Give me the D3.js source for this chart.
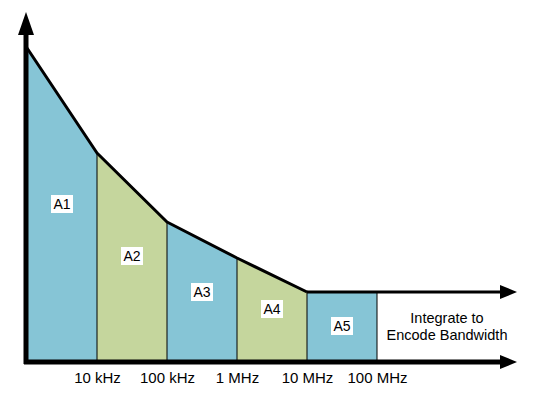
<!DOCTYPE html>
<html>
<head>
<meta charset="utf-8">
<script src="https://cdn.jsdelivr.net/npm/d3@7"></script>
<style>
	body { margin: 0; background: #fff; }
	text { font-family: "Liberation Sans", Arial, sans-serif; }
</style>
</head>
<body>
<div id="chart"></div>
<script>
var width = 552,
	height = 395;

// band edges (Hz) and curve level at each edge
var edges = [1e3, 1e4, 1e5, 1e6, 1e7, 1e8];
var levels = [312, 207, 138, 102, 68, 68];
var bandNames = ["A1", "A2", "A3", "A4", "A5"];
var bandColors = ["#86c5d6", "#c5d69d", "#86c5d6", "#c5d69d", "#86c5d6"];
var tickVals = [1e4, 1e5, 1e6, 1e7, 1e8];
var tickLabels = ["10 kHz", "100 kHz", "1 MHz", "10 MHz", "100 MHz"];
// label heights within each band
var labelLevels = [156, 104, 68, 51, 34];

var x = d3.scaleLog()
	.domain([1e3, 1e10])
	.range([27, 517]);

var y = d3.scaleLinear()
	.domain([0, 350])
	.range([360, 10]);

var svg = d3.select("#chart")
	.append("svg")
	.attr("width", width)
	.attr("height", height);

var defs = svg.append("defs");

function addArrow(id, len, wid) {
	defs.append("marker")
		.attr("id", id)
		.attr("viewBox", "0 0 10 10")
		.attr("refX", 0)
		.attr("refY", 5)
		.attr("markerUnits", "userSpaceOnUse")
		.attr("markerWidth", len)
		.attr("markerHeight", wid)
		.attr("orient", "auto")
		.attr("preserveAspectRatio", "none")
		.append("path")
		.attr("d", "M0,0L10,5L0,10Z")
		.attr("fill", "#000");
}
addArrow("arrow", 17, 14);
addArrow("arrowY", 23, 16);

// bands
var bands = bandNames.map(function (n, i) {
	return { name: n, x0: edges[i], x1: edges[i + 1], y0: levels[i], y1: levels[i + 1], color: bandColors[i], ly: labelLevels[i] };
});

var gBands = svg.append("g").attr("class", "bands");

gBands.selectAll("path")
	.data(bands)
	.enter()
	.append("path")
	.attr("d", function (d) {
		return "M" + x(d.x0) + "," + y(0) + "L" + x(d.x0) + "," + y(d.y0) +
			"L" + x(d.x1) + "," + y(d.y1) + "L" + x(d.x1) + "," + y(0) + "Z";
	})
	.attr("fill", function (d) { return d.color; });

// divider lines
gBands.selectAll("line")
	.data(edges.slice(1))
	.enter()
	.append("line")
	.attr("x1", function (d) { return x(d); })
	.attr("x2", function (d) { return x(d); })
	.attr("y1", function (d, i) { return y(levels[i + 1]); })
	.attr("y2", y(0))
	.attr("stroke", "#000")
	.attr("stroke-width", 1);

// curve
var line = d3.line()
	.x(function (d) { return x(d[0]); })
	.y(function (d) { return y(d[1]); });

svg.append("path")
	.datum(edges.slice(0, 5).map(function (e, i) { return [e, levels[i]]; }))
	.attr("d", line)
	.attr("fill", "none")
	.attr("stroke", "#000")
	.attr("stroke-width", 3)
	.attr("stroke-linejoin", "round");

// top arrow (flat level continuing on)
svg.append("line")
	.attr("x1", x(1e7))
	.attr("x2", x(1e10) - 17)
	.attr("y1", y(68))
	.attr("y2", y(68))
	.attr("stroke", "#000")
	.attr("stroke-width", 3)
	.attr("marker-end", "url(#arrow)");

// labels with white boxes
var lab = svg.append("g").attr("class", "labels")
	.selectAll("g")
	.data(bands)
	.enter()
	.append("g")
	.attr("transform", function (d) {
		return "translate(" + (x(d.x0) + x(d.x1)) / 2 + "," + y(d.ly) + ")";
	});

lab.append("rect")
	.attr("x", -11)
	.attr("y", -9)
	.attr("width", 22)
	.attr("height", 18)
	.attr("fill", "#fff");

lab.append("text")
	.attr("text-anchor", "middle")
	.attr("dy", "0.36em")
	.style("font-size", "14px")
	.attr("fill", "#000")
	.text(function (d) { return d.name; });

svg.append("text")
	.attr("x", 447)
	.attr("y", 323)
	.attr("text-anchor", "middle")
	.style("font-size", "14.5px")
	.selectAll("tspan")
	.data(["Integrate to", "Encode Bandwidth"])
	.enter()
	.append("tspan")
	.attr("x", 447)
	.attr("dy", function (d, i) { return i ? 17 : 0; })
	.text(function (d) { return d; });

// axes
svg.append("line")
	.attr("x1", 26)
	.attr("x2", 26)
	.attr("y1", 364)
	.attr("y2", 35)
	.attr("stroke", "#000")
	.attr("stroke-width", 5)
	.attr("marker-end", "url(#arrowY)");

svg.append("line")
	.attr("x1", 24)
	.attr("x2", x(1e10) - 17)
	.attr("y1", 362)
	.attr("y2", 362)
	.attr("stroke", "#000")
	.attr("stroke-width", 5)
	.attr("marker-end", "url(#arrow)");

var xAxis = d3.axisBottom(x)
	.tickValues(tickVals)
	.tickSize(0)
	.tickPadding(0)
	.tickFormat(function (d, i) { return tickLabels[i]; });

var gX = svg.append("g")
	.attr("transform", "translate(0," + 372 + ")")
	.call(xAxis);

gX.select(".domain").remove();
gX.selectAll("text")
	.style("font-size", "15px")
	.style("font-family", "'Liberation Sans', Arial, sans-serif")
	.attr("fill", "#000");
</script>
</body>
</html>
